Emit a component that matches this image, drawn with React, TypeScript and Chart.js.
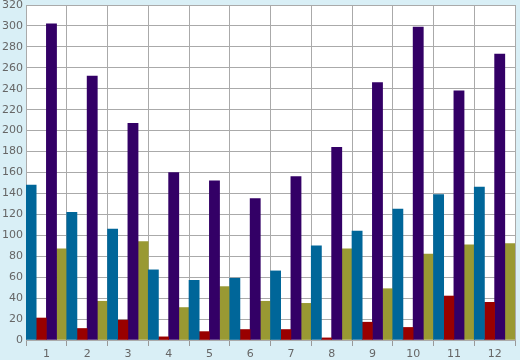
import React, { useEffect, useRef } from "react";
import { Chart, registerables } from "chart.js";

Chart.register(...registerables);

const categories = ["1", "2", "3", "4", "5", "6", "7", "8", "9", "10", "11", "12"];
const seriesBlue = [148, 122, 106, 67, 57, 59, 66, 90, 104, 125, 139, 146];
const seriesRed = [21, 11, 19, 3, 8, 10, 10, 2, 17, 12, 42, 36];
const seriesPurple = [302, 252, 207, 160, 152, 135, 156, 184, 246, 299, 238, 273];
const seriesOlive = [87, 37, 94, 31, 51, 37, 35, 87, 49, 82, 91, 92];

const bgPlugin = {
  id: "bgPlugin",
  beforeDraw(chart: any) {
    const { ctx, chartArea } = chart;
    ctx.save();
    ctx.fillStyle = "#d9eff6";
    ctx.fillRect(0, 0, chart.width, chart.height);
    ctx.fillStyle = "#ffffff";
    ctx.fillRect(chartArea.left, chartArea.top, chartArea.right - chartArea.left, chartArea.bottom - chartArea.top);
    ctx.restore();
  },
};

export default function App() {
  const ref = useRef<HTMLCanvasElement>(null);
  useEffect(() => {
    document.body.style.margin = "0";
    const chart = new Chart(ref.current!, {
      type: "bar",
      data: {
        labels: categories,
        datasets: [
          { data: seriesBlue, backgroundColor: "#006699" },
          { data: seriesRed, backgroundColor: "#990000" },
          { data: seriesPurple, backgroundColor: "#330066" },
          { data: seriesOlive, backgroundColor: "#999933" },
        ],
      },
      options: {
        animation: false,
        responsive: false,
        maintainAspectRatio: false,
        layout: { padding: { top: 5, right: 5, left: 0, bottom: 0 } },
        datasets: { bar: { categoryPercentage: 1, barPercentage: 1, borderWidth: 0 } },
        plugins: { legend: { display: false }, tooltip: { enabled: false }, title: { display: false } },
        scales: {
          x: {
            offset: true,
            grid: { offset: true, color: "#aaaaaa", lineWidth: 1, drawTicks: true, tickLength: 6, tickColor: "#999999" },
            border: { color: "#aaaaaa" },
            ticks: { color: "#666666", font: { family: "DejaVu Sans", size: 11 }, padding: 2, maxRotation: 0 },
            afterFit(scale: any) { scale.height = 20; scale.paddingLeft = 0; scale.paddingRight = 0; },
          },
          y: {
            min: 0,
            max: 320,
            ticks: { stepSize: 20, color: "#666666", font: { family: "DejaVu Sans", size: 11 }, padding: 3 },
            grid: { color: "#aaaaaa", lineWidth: 1, drawTicks: false },
            border: { color: "#aaaaaa" },
            afterFit(scale: any) { scale.width = 26; scale.paddingTop = 0; scale.paddingBottom = 0; },
          },
        },
      },
      plugins: [bgPlugin],
    });
    return () => chart.destroy();
  }, []);
  return (
    <div style={{ position: "fixed", left: 0, top: 0, width: 520, height: 360 }}>
      <canvas ref={ref} width={520} height={360} />
    </div>
  );
}
